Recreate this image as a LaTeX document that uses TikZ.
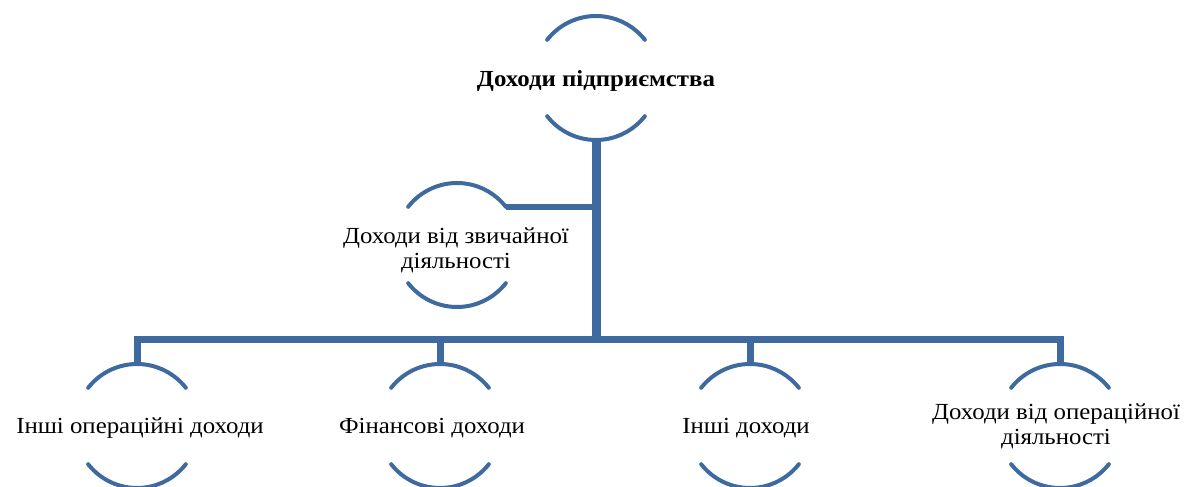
\documentclass[tikz,border=0pt]{standalone}
\usepackage{fontspec}
\setmainfont{Liberation Serif}[FakeStretch=1.08]
\definecolor{linecol}{RGB}{62,106,160}
\begin{document}
\begin{tikzpicture}[x=1pt,y=1pt,
  ring/.style={circle,minimum size=124pt,inner sep=0pt,outer sep=0pt,draw=none},
  arcline/.style={draw=linecol,line width=4pt,line cap=round},
  conn/.style={draw=linecol,line width=7pt},
  trunkline/.style={draw=linecol,line width=9pt},
  txt/.style={font=\fontsize{23}{25}\selectfont,align=center,inner sep=0pt,text=black},
  btxt/.style={txt,font=\fontsize{23}{25}\selectfont\bfseries}]
\useasboundingbox (0,0) rectangle (1197,487);
% circle placeholders
\node[ring] (c0) at (596,409) {};
\node[ring] (c1) at (457,242) {};
\node[ring] (c2) at (137,61) {};
\node[ring] (c3) at (440,61) {};
\node[ring] (c4) at (750,61) {};
\node[ring] (c5) at (1060,61) {};
\coordinate (bus) at (0,147);
% arcs
\foreach \n in {c0,c1,c2,c3,c4,c5}{
  \draw[arcline] (\n.142) arc[start angle=142,end angle=38,radius=62pt];
  \draw[arcline] (\n.-142) arc[start angle=-142,end angle=-38,radius=62pt];
}
% connectors
\draw[trunkline] (c0.south) -- (c0.south |- bus);
\draw[conn,line width=6pt] (c1.38) -- (c1.38 -| c0.south);
\draw[conn] (c2.north) -- (c2.north |- bus) -- (c5.north |- bus) -- (c5.north);
\draw[conn] (c3.north) -- (c3.north |- bus);
\draw[conn] (c4.north) -- (c4.north |- bus);
% texts
\node[btxt] (t0) at (596,406) {Доходи підприємства};
\node[txt] (t1) at (456,237) {Доходи від звичайної\\діяльності};
\node[txt] (t2) at (140,59) {Інші операційні доходи};
\node[txt] (t3) at (432,59) {Фінансові доходи};
\node[txt] (t4) at (746,59) {Інші доходи};
\node[txt] (t5) at (1056,61) {Доходи від операційної\\діяльності};
\end{tikzpicture}
\end{document}
